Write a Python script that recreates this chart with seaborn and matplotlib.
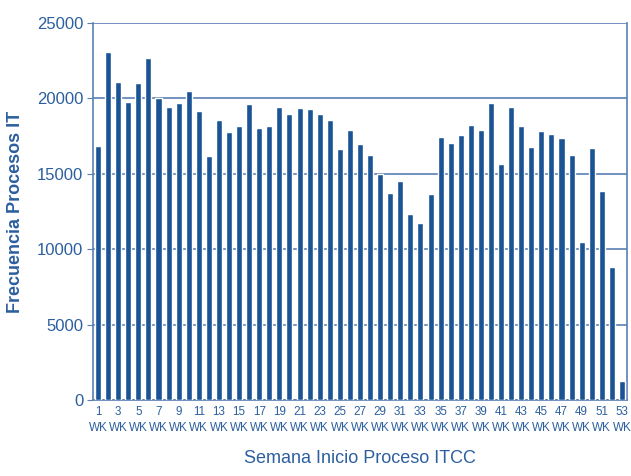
import matplotlib
matplotlib.use("Agg")
import matplotlib.pyplot as plt
import seaborn as sns
import pandas as pd

# weekly counts
weeks = list(range(1, 54))
frecuencia = [
    16820, 23060, 21070, 19740, 21000, 22660, 20000, 19410, 19670, 20470,
    19140, 16160, 18550, 17750, 18150, 19610, 18020, 18150, 19410, 18950,
    19340, 19280, 18950, 18550, 16620, 17880, 16960, 16230, 14990, 13710,
    14500, 12310, 11720, 13640, 17420, 17020, 17550, 18220, 17880, 19670,
    15630, 19410, 18150, 16760, 17820, 17620, 17350, 16230, 10460, 16690,
    13840, 8800, 1240,
]
y_ticks = [0, 5000, 10000, 15000, 20000, 25000]

BAR = "#1b5495"
TEXT = "#2c5f9f"
GRID = "#5a7fb3"

sns.set_style("white")
plt.rcParams["font.family"] = ["Liberation Sans", "DejaVu Sans"]

df = pd.DataFrame({"semana": weeks, "frecuencia": frecuencia})

fig = plt.figure(figsize=(6.31, 4.76), dpi=100)
ax = fig.add_axes([93 / 631, 76 / 476, 534 / 631, 377 / 476])

sns.barplot(data=df, x="semana", y="frecuencia", color=BAR, width=0.6,
            saturation=1, ax=ax, zorder=3)

ax.set_ylim(0, 25000)
ax.set_xlim(-0.5, len(weeks) - 0.5)
ax.set_yticks(y_ticks)
ax.set_yticklabels([str(t) for t in y_ticks], color=TEXT, fontsize=12)
ax.yaxis.grid(True, color=GRID, linewidth=1.2, zorder=0)

pos = list(range(0, len(weeks), 2))
ax.set_xticks(pos)
ax.set_xticklabels([f"{weeks[i]}\nWK" for i in pos], color=TEXT,
                   fontsize=8.4, linespacing=1.45)
ax.tick_params(axis="x", length=0, pad=4)
ax.tick_params(axis="y", length=4, color=GRID, left=True, pad=3)

for side in ["left", "right", "bottom"]:
    ax.spines[side].set_color(GRID)
    ax.spines[side].set_linewidth(1.2)
ax.spines["top"].set_visible(False)

ax.set_ylabel("Frecuencia Procesos IT", color=TEXT, fontsize=13,
              fontweight="bold", labelpad=9)
ax.set_xlabel("Semana Inicio Proceso ITCC", color=TEXT, fontsize=13,
              labelpad=12)

fig.savefig("out.png", dpi=100)
